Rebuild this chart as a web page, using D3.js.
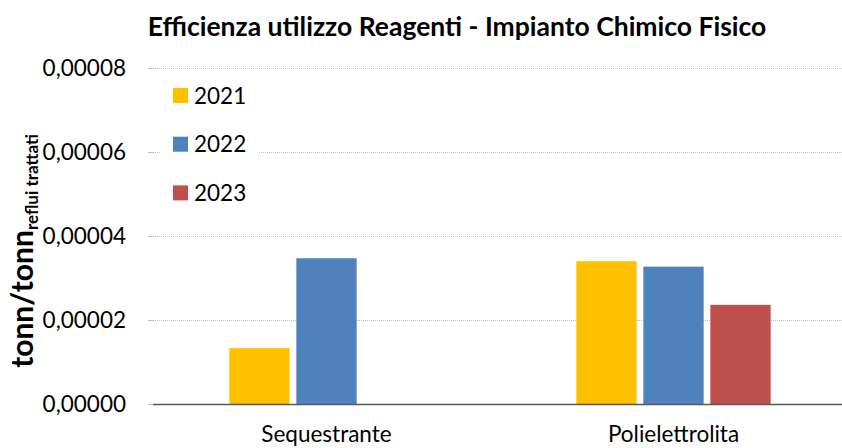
<!DOCTYPE html>
<html><head><meta charset="utf-8">
<script src="https://cdn.jsdelivr.net/npm/d3@7/dist/d3.min.js"></script>
<style>body{margin:0;background:#fff}svg{display:block}</style>
</head><body>
<svg id="c" width="842" height="448"></svg>
<script>
const categories = ["Sequestrante", "Polielettrolita"];
const years = ["2021", "2022", "2023"];
const values2021 = [0.0000133, 0.0000340];
const values2022 = [0.0000347, 0.0000327];
const values2023 = [null, 0.0000236];
const yTicks = [0, 0.00002, 0.00004, 0.00006, 0.00008];
const colors = ["#FFC000", "#4F81BD", "#C0504D"];
const seriesVals = [values2021, values2022, values2023];

const svg = d3.select("#c");
const font = "Lato, 'Open Sans', sans-serif";
const x0 = 153, x1 = 847, yTop = 68, yBot = 404;

const y = d3.scaleLinear().domain([0, 0.00008]).range([yBot, yTop]);
const x = d3.scaleBand().domain(categories).range([x0, x1]).paddingInner(0.44).paddingOuter(0.22);
const xs = d3.scaleBand().domain(years).range([0, x.bandwidth()]).paddingInner(0.1);

// gridlines
svg.append("g").selectAll("line").data(yTicks.slice(1)).join("line")
  .attr("x1", x0).attr("x2", 842).attr("y1", d => Math.round(y(d)) + 0.5).attr("y2", d => Math.round(y(d)) + 0.5)
  .attr("stroke", "#bdbdbd").attr("stroke-width", 1).attr("stroke-dasharray", "1,1");

// y axis labels
const fmt = d => d3.format(".5f")(d).replace(".", ",");
const yAxis = d3.axisLeft(y).tickValues(yTicks).tickFormat(fmt).tickSize(5).tickPadding(22);
const ga = svg.append("g").attr("transform", `translate(${x0},0)`).call(yAxis);
ga.select(".domain").remove();
ga.selectAll(".tick line").attr("stroke", "#bdbdbd");
ga.selectAll(".tick text").attr("font-family", font).attr("font-size", 22.5).attr("fill", "#000");

// bars
categories.forEach((c, i) => {
  seriesVals.forEach((vals, s) => {
    const v = vals[i];
    if (v == null) return;
    svg.append("rect")
      .attr("x", x(c) + xs(years[s])).attr("width", xs.bandwidth())
      .attr("y", y(v)).attr("height", y(0) - y(v))
      .attr("fill", colors[s]);
  });
});

// baseline
svg.append("line").attr("x1", x0).attr("x2", 842).attr("y1", yBot + 0.5).attr("y2", yBot + 0.5)
  .attr("stroke", "#595959").attr("stroke-width", 1.3);

// x labels
svg.append("g").selectAll("text").data(categories).join("text")
  .attr("x", d => x(d) + x.bandwidth() / 2).attr("y", 442)
  .attr("text-anchor", "middle").attr("font-family", font).attr("font-size", 22.5).attr("fill", "#000")
  .text(d => d);

// legend
const lg = svg.append("g");
lg.append("rect").attr("x", 160).attr("y", 76).attr("width", 98).attr("height", 138).attr("fill", "#fff");
years.forEach((yr, i) => {
  const cy = 95.5 + i * 48.7;
  lg.append("rect").attr("x", 173).attr("y", cy - 7.5).attr("width", 15).attr("height", 15).attr("fill", colors[i]);
  lg.append("text").attr("x", 194).attr("y", cy + 8).attr("font-family", font).attr("font-size", 22.5).attr("fill", "#000").text(yr);
});

// title
svg.append("text").attr("x", 457).attr("y", 36).attr("text-anchor", "middle")
  .attr("font-family", font).attr("font-weight", "bold").attr("font-size", 26.5).attr("fill", "#000")
  .text("Efficienza utilizzo Reagenti - Impianto Chimico Fisico");

// y title
const yt = svg.append("text").attr("transform", "translate(33,251) rotate(-90)")
  .attr("text-anchor", "middle").attr("font-family", font).attr("font-weight", "bold").attr("fill", "#000");
yt.append("tspan").attr("font-size", 30).text("tonn/tonn");
yt.append("tspan").attr("font-size", 17).attr("dy", 5).text("reflui trattati");
</script>
</body></html>
